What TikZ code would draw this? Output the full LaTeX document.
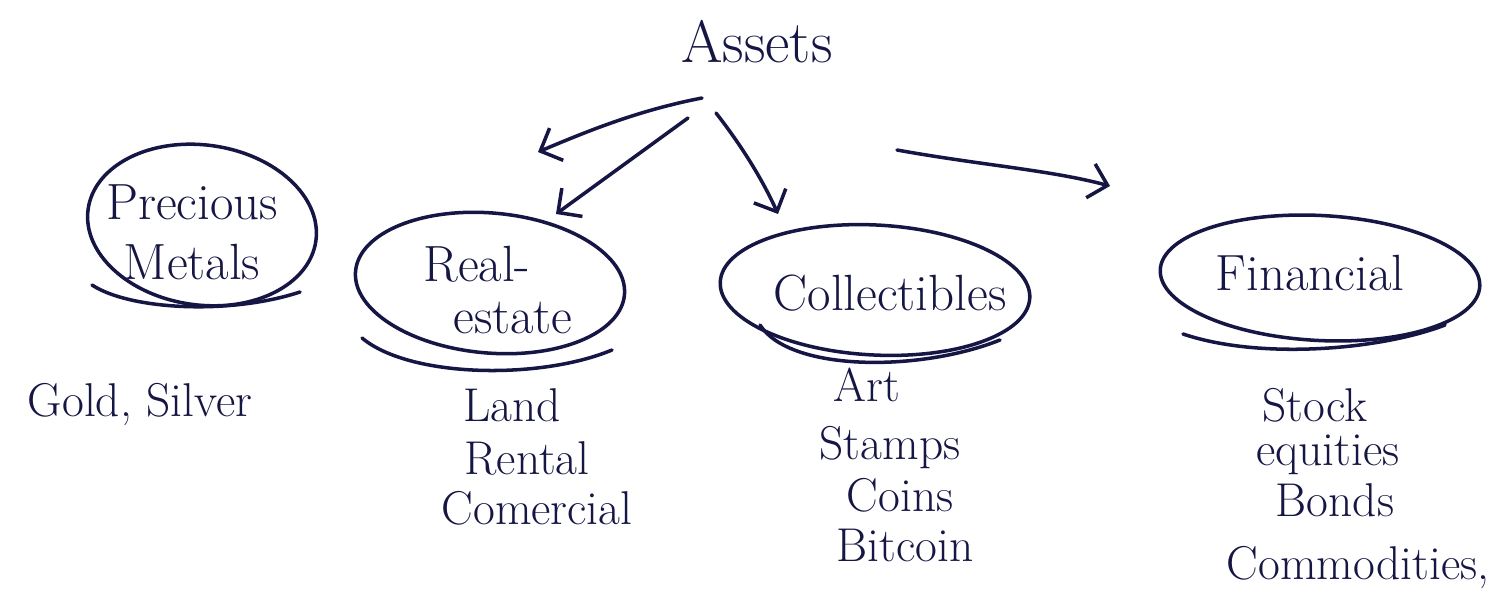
\documentclass[tikz,border=0pt]{standalone}
\usetikzlibrary{arrows.meta,shapes.geometric}
\definecolor{ink}{RGB}{22,22,68}
\tikzset{
  every node/.style={text=ink, inner sep=0pt},
  bubble/.style={ellipse, draw=ink, line width=2pt},
  tail/.style={draw=ink, line width=2pt, line cap=round},
  link/.style={draw=ink, line width=2pt, line cap=round, -{Straight Barb[length=3.5mm,width=7mm,line width=2pt]}},
  big/.style={font=\fontsize{34}{40}\selectfont},
  head/.style={font=\fontsize{29}{34}\selectfont, align=center},
  item/.style={font=\fontsize{27}{32}\selectfont},
}
\begin{document}
\begin{tikzpicture}[x=0.02cm,y=-0.02cm]
\useasboundingbox[fill=white] (0,0) rectangle (1501,598);
% top
\node[big] (assets) at (757,42) {Assets};
% category ellipses
\node[bubble, minimum width=4.6cm, minimum height=3.2cm, rotate=-8] (pm) at (202,225) {};
\node[head] (pmt) at (192,232) {Precious\\Metals};
\node[bubble, minimum width=5.4cm, minimum height=2.8cm, rotate=-5] (re) at (490,283) {};
\node[head, align=left] (ret) at (498,290) {Real-\\[-4pt]\hspace*{0.6cm}estate};
\node[bubble, minimum width=6.2cm, minimum height=2.6cm, rotate=-3] (co) at (875,290) {};
\node[head] (cot) at (890,293) {Collectibles};
\node[bubble, minimum width=6.4cm, minimum height=2.5cm, rotate=-3] (fi) at (1320,278) {};
\node[head] (fit) at (1310,273) {Financial};
% overshoot tails of the hand-drawn ellipses
\draw[tail] (92,285) .. controls (130,310) and (230,315) .. (300,292);
\draw[tail] (362,338) .. controls (410,378) and (540,380) .. (612,350);
\draw[tail] (760,325) .. controls (790,372) and (920,372) .. (1000,340);
\draw[tail] (1183,334) .. controls (1260,360) and (1380,350) .. (1445,325);
% arrows
\coordinate (s1) at (702,98);
\coordinate (e1) at (538,152);
\coordinate (s2) at (688,118);
\coordinate (e2) at (556,214);
\coordinate (s3) at (716,113);
\coordinate (e3) at (778,214);
\coordinate (s4) at (897,150);
\coordinate (e4) at (1110,186);
\draw[link] (s1) .. controls (640,110) and (590,130) .. (e1);
\draw[link] (s2) -- (e2);
\draw[link] (s3) .. controls (745,150) and (765,185) .. (e3);
\draw[link] (s4) .. controls (980,165) and (1050,170) .. (e4);
% lists
\node[item] (gs) at (140,405) {Gold, Silver};
\node[item] (l1) at (512,405) {Land};
\node[item] (l2) at (527,458) {Rental};
\node[item] (l3) at (537,508) {Comercial};
\node[item] (c1) at (867,385) {Art};
\node[item] (c2) at (890,448) {Stamps};
\node[item] (c3) at (900,495) {Coins};
\node[item] (c4) at (905,545) {Bitcoin};
\node[item] (f1) at (1315,405) {Stock};
\node[item] (f2) at (1328,455) {equities};
\node[item] (f3) at (1335,500) {Bonds};
\node[item] (f4) at (1358,568) {Commodities,};
\end{tikzpicture}
\end{document}
